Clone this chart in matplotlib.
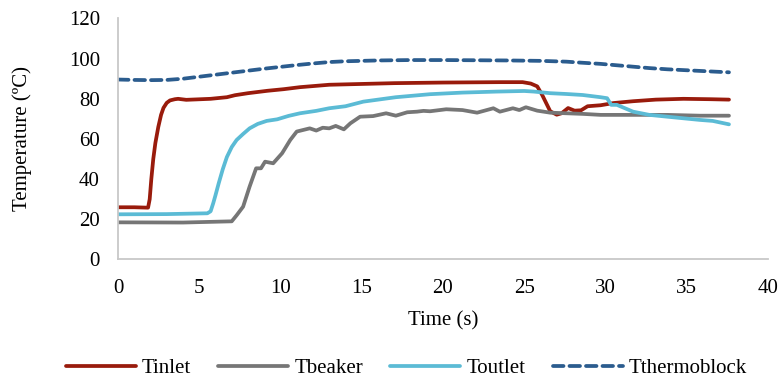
import matplotlib
matplotlib.use("Agg")
import matplotlib.pyplot as plt

# inlet water temperature
t_inlet = [0, 1.0, 1.85, 1.95, 2.05, 2.17, 2.3, 2.48, 2.65, 2.8, 3.0, 3.2, 3.5, 3.7,
           4.2, 4.8, 5.7, 6.7, 7.2, 8.0, 9.2, 10.2, 11.2, 13.0, 15.0, 17.0, 20.0,
           23.5, 24.9, 25.4, 25.8, 26.1, 26.6, 27.0, 27.3, 27.7, 28.1, 28.5, 28.9,
           29.7, 30.5, 31.7, 33.1, 34.8, 36.5, 37.6]
T_inlet = [26, 26, 25.8, 30, 40, 50, 58, 66, 72, 75.5, 78, 79.2, 79.8, 80,
           79.5, 79.7, 80, 80.8, 81.8, 82.8, 84, 84.8, 85.8, 87, 87.4, 87.8, 88.1,
           88.3, 88.3, 87.6, 86.2, 82, 73.8, 72.1, 72.8, 75.4, 74.1, 74.3, 76.3,
           76.8, 77.9, 78.8, 79.6, 80, 79.8, 79.6]

# beaker temperature
t_beaker = [0, 4, 7.0, 7.3, 7.7, 8.1, 8.5, 8.8, 9.05, 9.55, 10.1, 10.6, 11.0, 11.8,
            12.2, 12.6, 13.0, 13.4, 13.9, 14.3, 14.9, 15.7, 16.5, 17.1, 17.8, 18.4,
            18.8, 19.2, 20.2, 21.2, 22.1, 23.1, 23.5, 24.3, 24.7, 25.1, 25.8, 26.6,
            27.6, 28.6, 29.7, 31.7, 33.8, 35.8, 37.6]
T_beaker = [18.5, 18.4, 19, 22, 26.3, 36.3, 45.4, 45.4, 48.7, 47.9, 52.9, 59.5, 63.7, 65.3,
            64.2, 65.6, 65.3, 66.5, 64.8, 67.8, 71.1, 71.4, 72.8, 71.6, 73.3, 73.6,
            74, 73.8, 74.8, 74.4, 73.1, 75.3, 73.6, 75.3, 74.4, 75.8, 74.1, 73.1,
            72.8, 72.5, 72, 72, 72, 71.6, 71.6]

# outlet water temperature
t_outlet = [0, 3, 5.5, 5.7, 5.86, 6.0, 6.2, 6.45, 6.7, 7.0, 7.3, 7.7, 8.1, 8.6, 9.15,
            9.8, 10.5, 11.2, 12.2, 13.0, 14.0, 15.1, 17.1, 19.2, 21.2, 23.3, 25.0,
            25.6, 26.6, 27.6, 28.6, 29.7, 30.1, 30.35, 30.7, 31.7, 32.7, 33.8, 35.8,
            36.6, 37.6]
T_outlet = [22.5, 22.6, 23, 24, 28, 32, 38, 45, 51, 56, 59.5, 62.5, 65.3, 67.5, 69,
            69.8, 71.5, 72.8, 74, 75.3, 76.3, 78.6, 80.8, 82.3, 83.1, 83.6, 83.9,
            83.6, 82.8, 82.4, 81.9, 80.8, 80.3, 77, 77, 73.6, 72, 71.1, 69.5,
            69, 67.3]

# thermoblock temperature
t_block = [0, 1, 2, 3, 4, 5, 6, 7, 8, 9, 10, 11, 12, 13, 14, 16, 18, 20, 22, 24, 26,
           27.6, 28.5, 29.7, 30.7, 31.7, 32.7, 33.8, 34.8, 35.8, 36.8, 37.6]
T_block = [89.6, 89.4, 89.3, 89.4, 90, 91, 92, 93, 94, 95, 95.9, 96.8, 97.6, 98.3, 98.7,
           99.1, 99.3, 99.3, 99.2, 99.1, 98.9, 98.5, 98, 97.4, 96.7, 96, 95.3, 94.7,
           94.3, 93.9, 93.5, 93.2]

x_ticks = [0, 5, 10, 15, 20, 25, 30, 35, 40]
y_ticks = [0, 20, 40, 60, 80, 100, 120]

plt.rcParams["font.family"] = ["Liberation Serif", "DejaVu Serif"]
plt.rcParams["font.size"] = 15

fig = plt.figure(figsize=(7.83, 3.85), dpi=100)
ax = fig.add_axes([0.1507, 0.326, 0.8301, 0.626])

lw = 2.7
ax.plot(t_inlet, T_inlet, color="#991b0c", lw=lw, label="Tinlet", solid_capstyle="round")
ax.plot(t_beaker, T_beaker, color="#767676", lw=lw, label="Tbeaker", solid_capstyle="round")
ax.plot(t_outlet, T_outlet, color="#5bbbd5", lw=lw, label="Toutlet", solid_capstyle="round")
ax.plot(t_block, T_block, color="#2b5c8e", lw=lw, ls=(0, (2.8, 1.6)), label="Tthermoblock",
        dash_capstyle="round")

ax.set_xlim(0, 40)
ax.set_ylim(0, 120)
ax.set_xticks(x_ticks)
ax.set_yticks(y_ticks)
ax.tick_params(axis="both", length=0)
ax.tick_params(axis="y", pad=13)
ax.tick_params(axis="x", pad=14)

for side in ("top", "right"):
    ax.spines[side].set_visible(False)
for side in ("left", "bottom"):
    ax.spines[side].set_color("#c8c8c8")
    ax.spines[side].set_linewidth(1.3)

ax.set_xlabel("Time (s)", va="center")
ax.set_ylabel("Temperature (ºC)", va="center")
ax.xaxis.set_label_coords(0.5, -0.255)
ax.yaxis.set_label_coords(-0.148, 0.5)

fig.legend(loc="center", bbox_to_anchor=(0.519, 0.043), ncol=4, frameon=False,
           handlelength=3.36, handletextpad=0.3, columnspacing=1.3)

fig.savefig("out.png", dpi=100)
